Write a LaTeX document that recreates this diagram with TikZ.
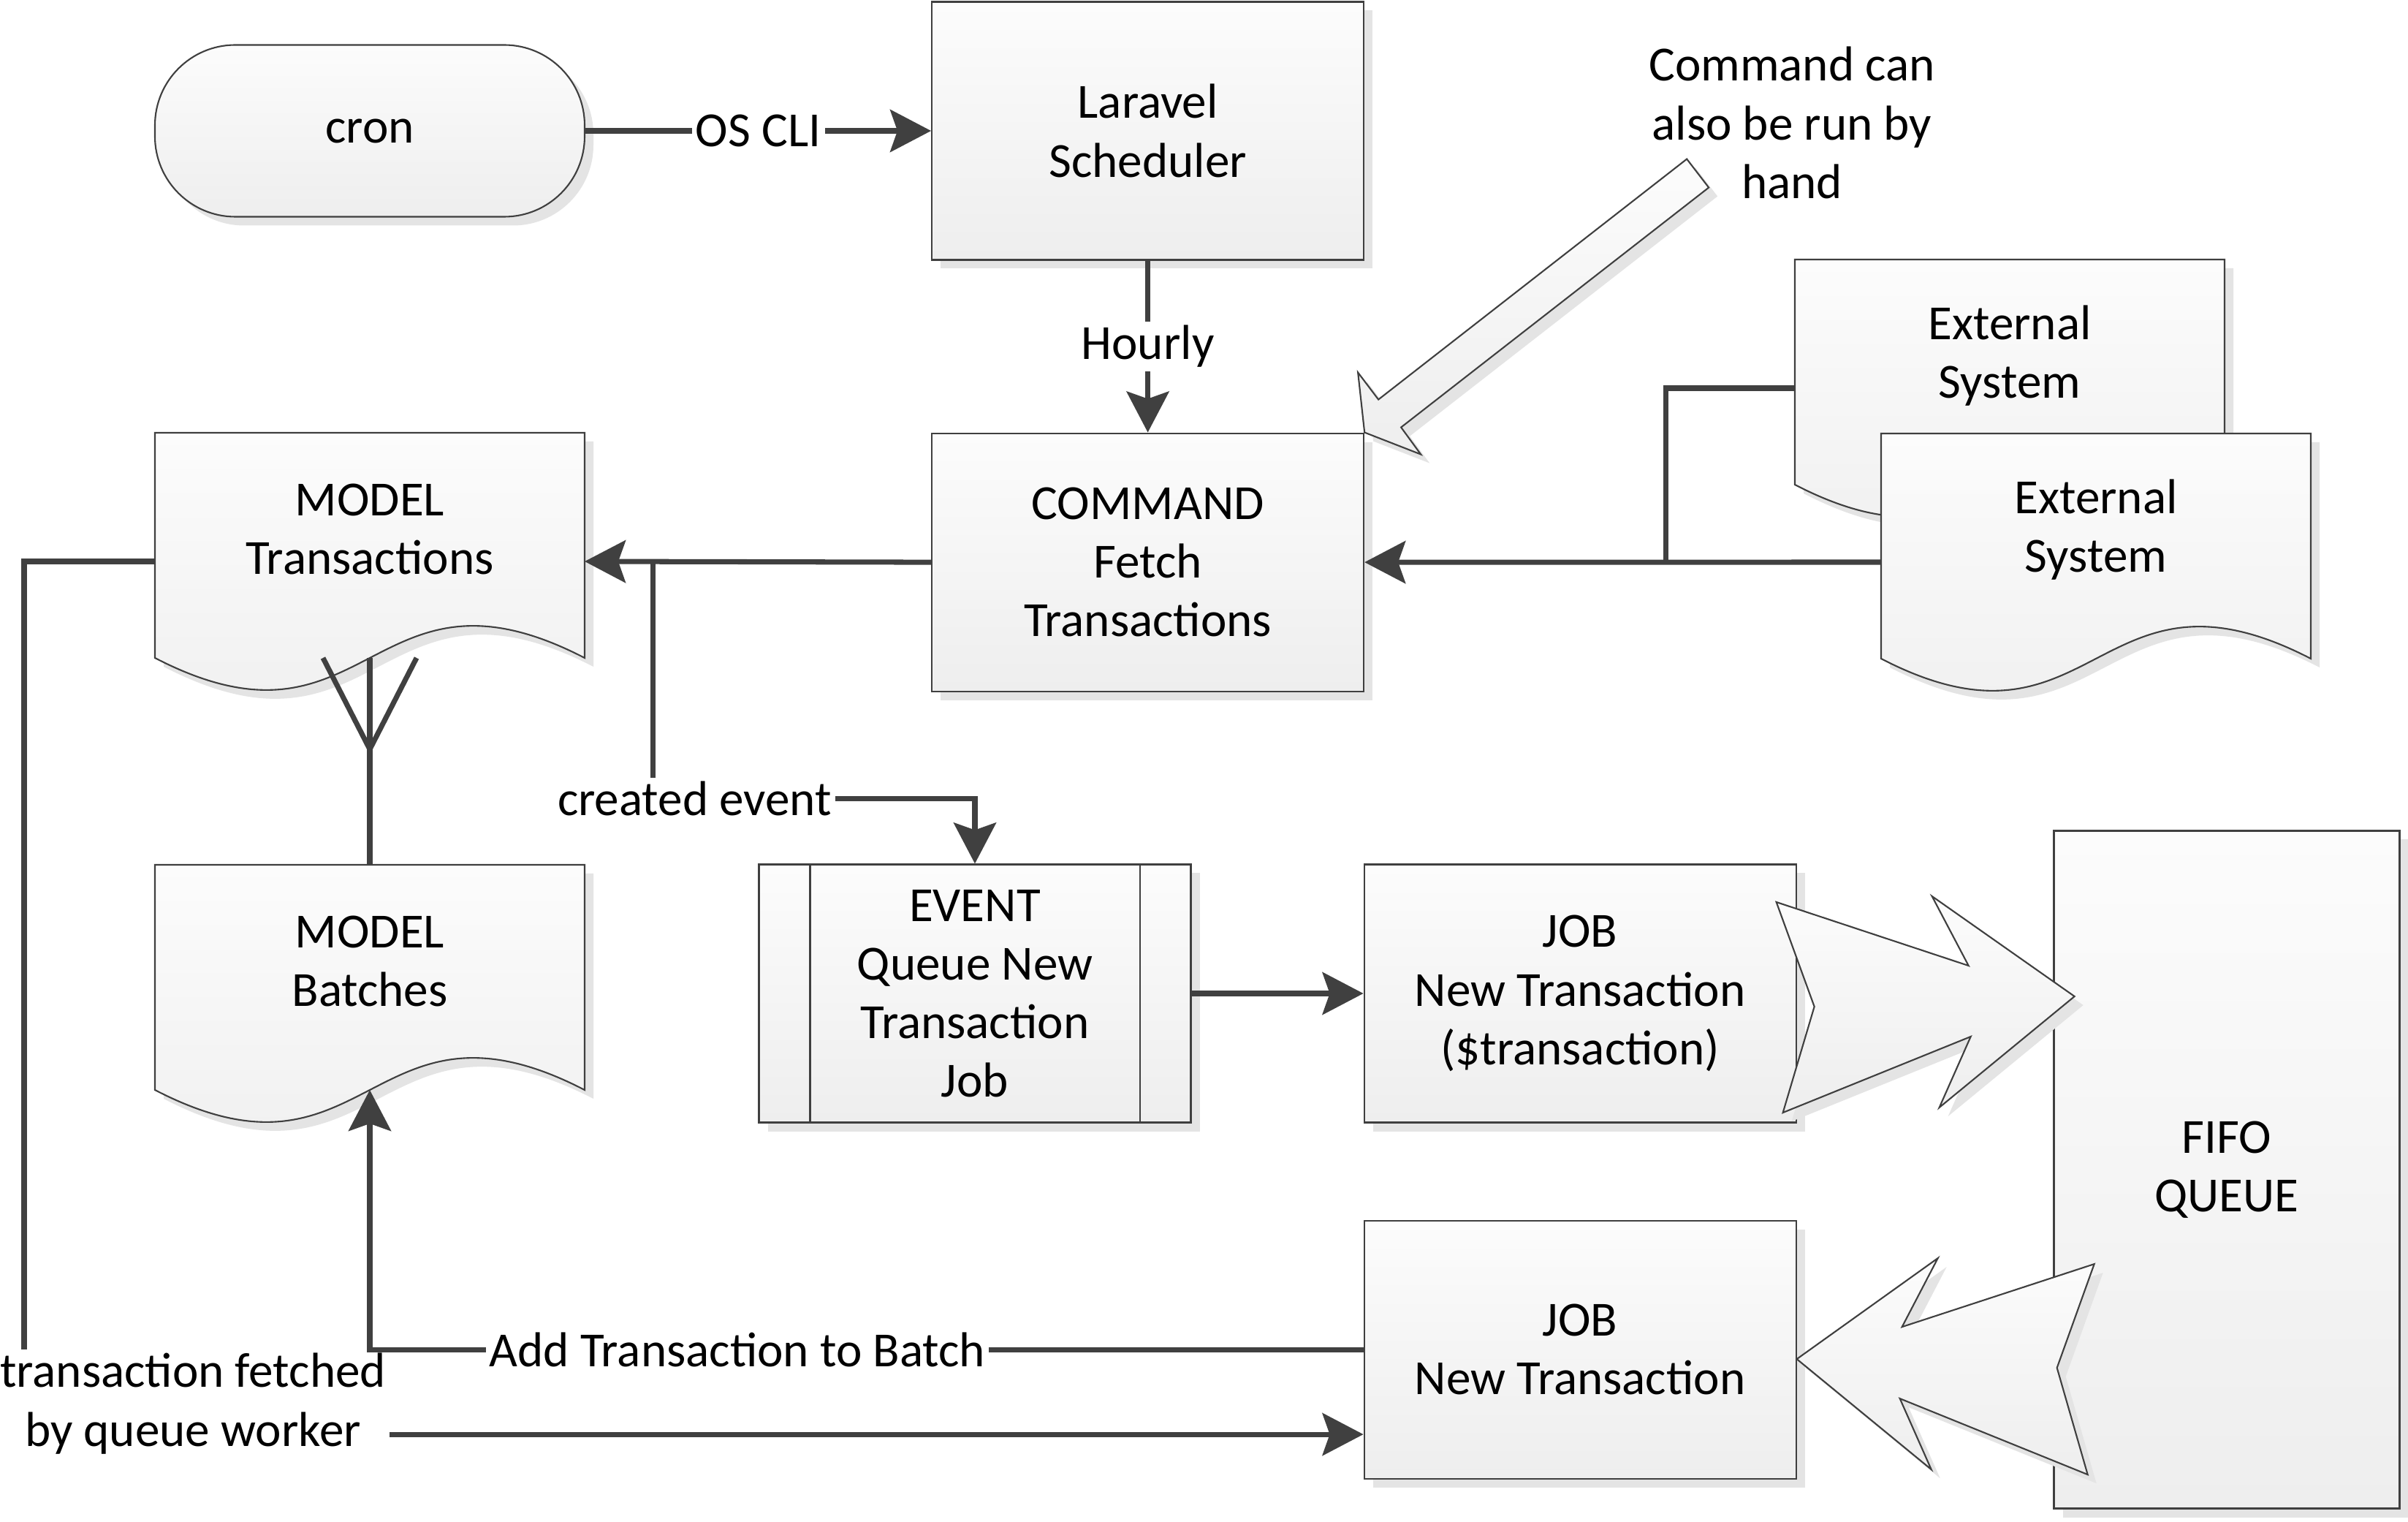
\documentclass[tikz,border=0pt]{standalone}
\usepackage{fontspec}
\setmainfont{Carlito}
\usepackage{tikz}
\usetikzlibrary{positioning, arrows.meta, calc, backgrounds, shadows}
\definecolor{ink}{HTML}{404040}
\definecolor{edge}{HTML}{3F3F3F}
\definecolor{shadowgrey}{HTML}{E4E4E4}
\definecolor{filltop}{HTML}{FCFCFC}
\definecolor{fillbot}{HTML}{EEEEEE}
\newcommand{\labelfont}{\fontsize{19.1}{22.8}\selectfont}
% document shape with wavy bottom drawn round a text node
\newcommand{\docshape}[1]{%
  \fill[shadowgrey] ([xshift=0.12cm,yshift=-0.12cm]#1.north west) -- ([xshift=0.12cm,yshift=-0.12cm]#1.north east)
    -- ([xshift=0.12cm,yshift=-0.56cm]#1.south east)
    .. controls ([xshift=0.12cm,yshift=0.96cm]#1.south) and ([xshift=0.12cm,yshift=-2.08cm]#1.south)
    .. ([xshift=0.12cm,yshift=-0.56cm]#1.south west) -- cycle;
  \draw[docfill] (#1.north west) -- (#1.north east) -- ([yshift=-0.44cm]#1.south east)
    .. controls ([yshift=1.08cm]#1.south) and ([yshift=-1.96cm]#1.south)
    .. ([yshift=-0.44cm]#1.south west) -- cycle;
}
\tikzset{
  box/.style      = {rectangle, draw=edge, line width=0.6pt, top color=filltop, bottom color=fillbot,
                    minimum width=5.91cm, minimum height=3.53cm, align=center, font=\labelfont,
                    drop shadow={shadow xshift=0.12cm, shadow yshift=-0.12cm, fill=shadowgrey, opacity=1}},
  termnode/.style = {box, rounded corners=1.1cm, minimum width=5.88cm, minimum height=2.35cm},
  docnode/.style  = {rectangle, minimum width=5.88cm, minimum height=2.64cm, inner sep=0pt,
                    outer sep=0pt, align=center, font=\labelfont},
  docfill/.style  = {draw=edge, line width=0.6pt, top color=filltop, bottom color=fillbot},
  notetext/.style = {align=center, font=\labelfont},
  lbl/.style      = {fill=white, inner sep=1.5pt, align=center, font=\labelfont},
  bar/.style      = {draw=edge, line width=0.6pt},
  blockarrow/.style = {draw=edge, line width=0.6pt, top color=filltop, bottom color=fillbot},
  ar/.style       = {-{Stealth[length=0.56cm, width=0.58cm, inset=0.1cm]}, line width=2pt, draw=ink},
  ln/.style       = {line width=2pt, draw=ink},
}
\begin{document}
\begin{tikzpicture}[node distance=2.35cm]
  \useasboundingbox (0,0) rectangle (32.95,-20.82);

  % Scheduler chain
  \node[termnode] (cron) at (5.06,-1.79) {cron};
  \node[box, right=4.73cm of cron] (sched) {Laravel\\Scheduler};
  \node[box, below=of sched] (cmd) {COMMAND\\Fetch\\Transactions};
  \node[notetext] (note) at (24.52,-1.68) {Command can\\also be run by\\hand};

  % Models and external systems
  \node[docnode] (mtrans) at (5.06,-7.24) {MODEL\\Transactions};
  \node[docnode, below=3.27cm of mtrans] (mbatch) {MODEL\\Batches};
  \node[docnode] (ext1) at (27.50,-4.87) {External\\System};
  \node[docnode] (ext2) at (28.68,-7.25) {External\\System};

  % Event, jobs and queue
  \node[box] (qevent) at (13.34,-13.59) {EVENT\\Queue New\\Transaction\\Job};
  \node[box, right=of qevent] (job1) {JOB\\New Transaction\\(\$transaction)};
  \node[box, below=1.32cm of job1] (job2) {JOB\\New Transaction};
  \node[box, minimum width=4.73cm, minimum height=9.27cm] (fifo) at (30.47,-16.0) {FIFO\\QUEUE};

  \begin{scope}[on background layer]
    \fill[white] (0,0) rectangle (32.95,-20.82);
    \docshape{mtrans}
    \docshape{mbatch}
    \docshape{ext1}
    \docshape{ext2}
  \end{scope}

  \draw[bar] ([xshift=0.71cm]qevent.north west) -- ([xshift=0.71cm]qevent.south west);
  \draw[bar] ([xshift=-0.71cm]qevent.north east) -- ([xshift=-0.71cm]qevent.south east);

  % Hollow arrow from the note
  \fill[shadowgrey] ([shift={(0.12,-0.12)}]cmd.north east) -- ++(-0.09,0.82) -- ++(0.28,-0.37) -- ++(4.22,3.29)
    -- ++(0.30,-0.39) -- ++(-4.21,-3.28) -- ++(0.27,-0.37) -- cycle;
  \draw[blockarrow] (cmd.north east) -- ++(-0.09,0.82) -- ++(0.28,-0.37) -- ++(4.22,3.29)
    -- ++(0.30,-0.39) -- ++(-4.21,-3.28) -- ++(0.27,-0.37) -- cycle;

  % Queue arrows
  \fill[shadowgrey] ([shift={(-0.16,1.13)}]job1.east) -- ++(2.63,-0.87) -- ++(-0.50,0.95) -- ++(1.95,-1.37)
    -- ++(-1.85,-1.52) -- ++(0.43,0.97) -- ++(-2.57,-1.04) -- ++(0.43,1.45) -- cycle;
  \draw[blockarrow] ([shift={(-0.28,1.25)}]job1.east) -- ++(2.63,-0.87) -- ++(-0.50,0.95) -- ++(1.95,-1.37)
    -- ++(-1.85,-1.52) -- ++(0.43,0.97) -- ++(-2.57,-1.04) -- ++(0.43,1.45) -- cycle;
  \fill[shadowgrey] ([shift={(0.12,-0.25)}]job2.east) -- ++(1.93,1.38) -- ++(-0.49,-0.94) -- ++(2.63,0.86)
    -- ++(-0.51,-1.42) -- ++(0.42,-1.46) -- ++(-2.57,1.04) -- ++(0.43,-0.97) -- cycle;
  \draw[blockarrow] ([yshift=-0.13cm]job2.east) -- ++(1.93,1.38) -- ++(-0.49,-0.94) -- ++(2.63,0.86)
    -- ++(-0.51,-1.42) -- ++(0.42,-1.46) -- ++(-2.57,1.04) -- ++(0.43,-0.97) -- cycle;

  % Connectors
  \draw[ar] (cron) -- node[lbl]{OS CLI} (sched);
  \draw[ar] (sched) -- node[lbl]{Hourly} (cmd);
  \draw[ar] ([yshift=-0.44cm]ext2.west) -- coordinate[pos=0.417] (join) (cmd.east);
  \draw[ln] ([yshift=-0.44cm]ext1.west) -| (join);
  \draw[ar] (cmd.west) -- coordinate[pos=0.803] (tap) ([yshift=-0.44cm]mtrans.east);
  \draw[ar] (tap) |- node[lbl, xshift=0.57cm]{created event} ([yshift=0.89cm]qevent.north) -- (qevent.north);
  \draw[ar] (qevent) -- (job1);

  % one transaction batch, many transactions
  \draw[ln] (mbatch.north) -- ([yshift=-0.44cm]mtrans.south);
  \draw[ln] ([xshift=-0.64cm,yshift=-0.44cm]mtrans.south) -- ([yshift=-1.69cm]mtrans.south)
    -- ([xshift=0.64cm,yshift=-0.44cm]mtrans.south);

  \draw[ar] ([yshift=-0.44cm]mtrans.west) -- ++(-1.79,0) |- node[lbl, xshift=2.31cm, yshift=0.42cm]
    {transaction fetched\\by queue worker} ([yshift=-1.16cm]job2.west);
  \draw[ar] (job2.west) -| node[lbl, pos=0.315]{Add Transaction to Batch} ([yshift=-0.44cm]mbatch.south);

\end{tikzpicture}
\end{document}
